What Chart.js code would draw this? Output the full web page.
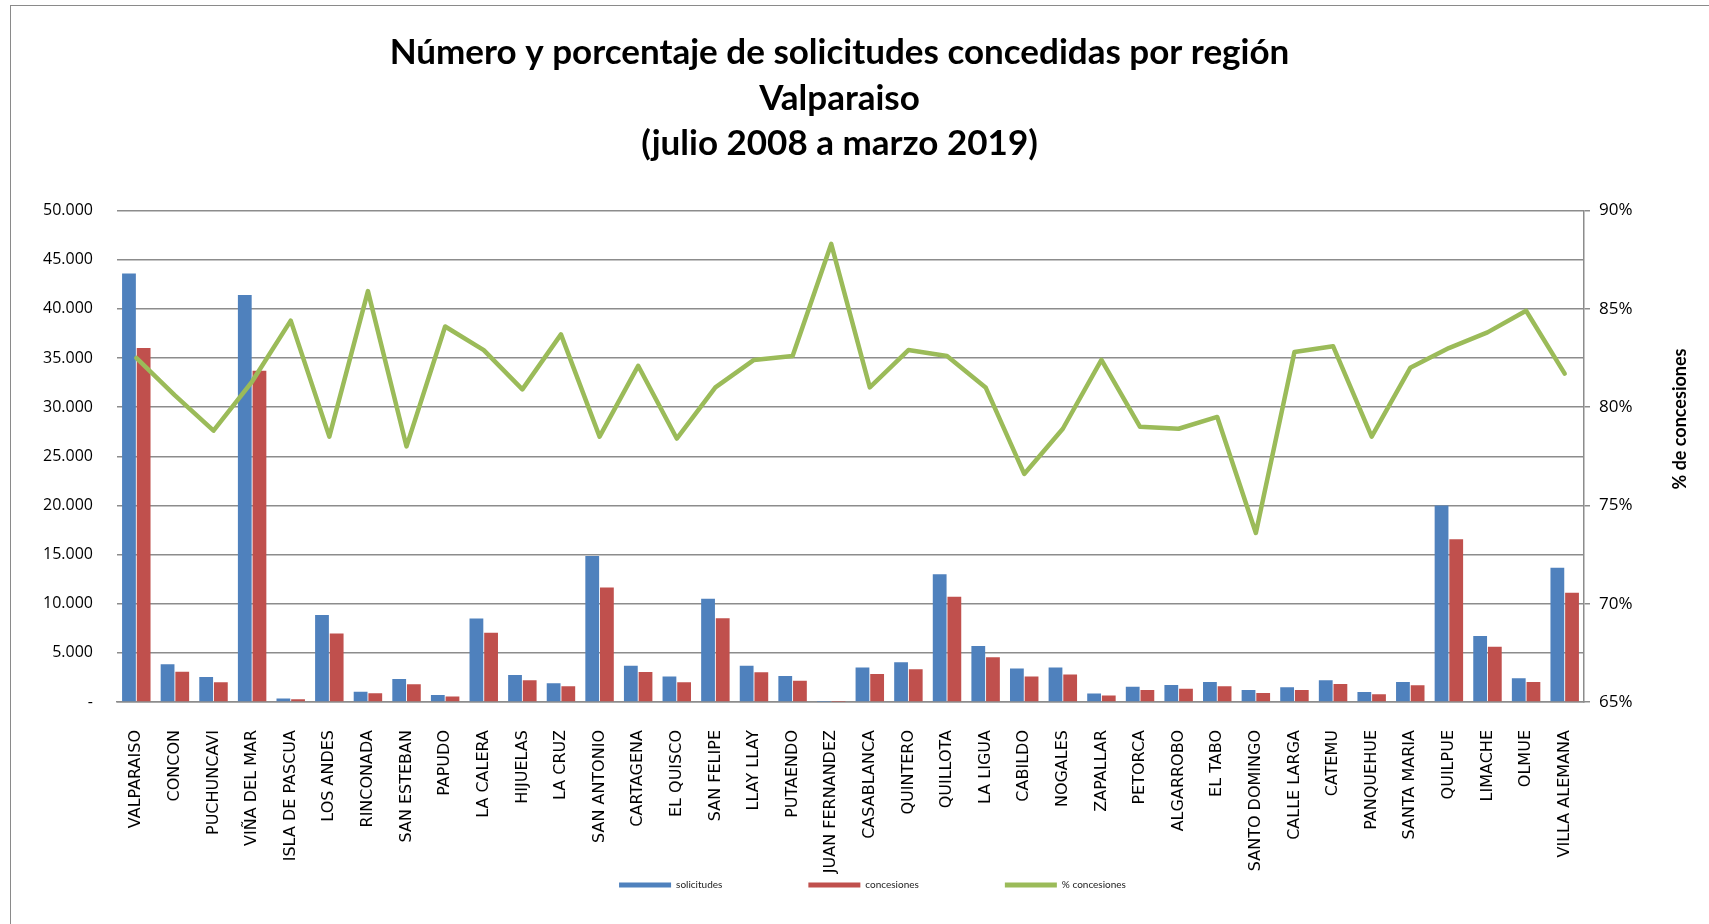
<!DOCTYPE html>
<html>
<head>
<meta charset="utf-8">
<script src="https://cdn.jsdelivr.net/npm/chart.js@4.4.1/dist/chart.umd.min.js"></script>
<style>
  html, body { margin: 0; padding: 0; background: #fff; overflow: hidden; }
  #frame { position: absolute; left: 10px; top: 5px; width: 1800px; height: 1000px; border: 1px solid #8a8a8a; }
  #c { position: absolute; left: 0; top: 0; }
</style>
</head>
<body>
<div id="frame"></div>
<canvas id="c" width="1709" height="924"></canvas>
<script>
const titleLines = ['Número y porcentaje de solicitudes concedidas por región', 'Valparaiso', '(julio 2008 a marzo 2019)'];
const rightAxisTitle = '% de concesiones';

const categories = ['VALPARAISO','CONCON','PUCHUNCAVI','VIÑA DEL MAR','ISLA DE PASCUA','LOS ANDES','RINCONADA','SAN ESTEBAN','PAPUDO','LA CALERA','HIJUELAS','LA CRUZ','SAN ANTONIO','CARTAGENA','EL QUISCO','SAN FELIPE','LLAY LLAY','PUTAENDO','JUAN FERNANDEZ','CASABLANCA','QUINTERO','QUILLOTA','LA LIGUA','CABILDO','NOGALES','ZAPALLAR','PETORCA','ALGARROBO','EL TABO','SANTO DOMINGO','CALLE LARGA','CATEMU','PANQUEHUE','SANTA MARIA','QUILPUE','LIMACHE','OLMUE','VILLA ALEMANA'];

const solicitudes = [43600, 3850, 2550, 41400, 350, 8850, 1050, 2350, 700, 8500, 2750, 1900, 14850, 3700, 2600, 10500, 3700, 2650, 17, 3500, 4050, 13000, 5700, 3400, 3500, 870, 1550, 1730, 2040, 1230, 1500, 2220, 1020, 2040, 20000, 6720, 2410, 13650];
const concesiones = [36000, 3080, 2000, 33700, 280, 6980, 900, 1800, 560, 7040, 2200, 1600, 11650, 3050, 2000, 8520, 3030, 2150, 15, 2860, 3330, 10700, 4560, 2600, 2790, 660, 1210, 1360, 1600, 920, 1230, 1840, 790, 1700, 16550, 5630, 2040, 11120];
const pctConcesiones = [82.5, 80.6, 78.8, 81.3, 84.4, 78.5, 85.9, 78.0, 84.1, 82.9, 80.9, 83.7, 78.5, 82.1, 78.4, 81.0, 82.4, 82.6, 88.3, 81.0, 82.9, 82.6, 81.0, 76.6, 78.9, 82.4, 79.0, 78.9, 79.5, 73.6, 82.8, 83.1, 78.5, 82.0, 83.0, 83.8, 84.9, 81.7];

const leftTicks = { min: 0, max: 50000, step: 5000 };
const rightTicks = { min: 65, max: 90, step: 5 };

function fmtThousands(v) {
  if (v === 0) return '-';
  return String(v).replace(/\B(?=(\d{3})+(?!\d))/g, '.');
}

const shiftPlugin = {
  id: 'shiftBoxes',
  afterLayout(chart) {
    if (chart.titleBlock) { chart.titleBlock.left -= 15; chart.titleBlock.right -= 15; }
    if (chart.legend) {
      chart.legend.left += 18; chart.legend.right += 18;
      chart.legend.top = 794; chart.legend.bottom = 924; chart.legend.height = 130;
    }
  },
  afterDraw(chart) {
    const ctx = chart.ctx;
    ctx.save();
    ctx.translate(1680, 419);
    ctx.rotate(-Math.PI / 2);
    ctx.font = 'bold 18px Lato';
    ctx.fillStyle = '#000';
    ctx.textAlign = 'center';
    ctx.textBaseline = 'middle';
    ctx.fillText(rightAxisTitle, 0, 0);
    ctx.restore();
  }
};

new Chart(document.getElementById('c'), {
  data: {
    labels: categories,
    datasets: [
      { type: 'bar', label: 'solicitudes', data: solicitudes, backgroundColor: '#4F81BD', borderWidth: 0, yAxisID: 'y', order: 1,
        categoryPercentage: 0.76, barPercentage: 0.94 },
      { type: 'bar', label: 'concesiones', data: concesiones, backgroundColor: '#C0504D', borderWidth: 0, yAxisID: 'y', order: 1,
        categoryPercentage: 0.76, barPercentage: 0.94 },
      { type: 'line', label: '% concesiones', data: pctConcesiones, borderColor: '#9BBB59', backgroundColor: '#9BBB59',
        borderWidth: 4.5, pointRadius: 0, tension: 0, fill: false, yAxisID: 'y1', order: 0,
        borderJoinStyle: 'round', borderCapStyle: 'round' }
    ]
  },
  options: {
    responsive: false,
    animation: false,
    devicePixelRatio: 1,
    layout: { padding: { left: 0, right: 0, top: 0, bottom: 0 } },
    plugins: {
      tooltip: { enabled: false },
      title: {
        display: true,
        text: titleLines,
        color: '#000',
        font: { family: 'Lato', size: 35, weight: 'bold', lineHeight: 1.3 },
        padding: { top: 30, bottom: 44 }
      },
      legend: {
        display: true,
        position: 'bottom',
        maxHeight: 44,
        labels: {
          color: '#222',
          font: { family: 'Lato', size: 10 },
          boxWidth: 52,
          boxHeight: 5,
          padding: 86,
          sort: (a, b) => a.datasetIndex - b.datasetIndex,
          generateLabels(chart) {
            const items = Chart.defaults.plugins.legend.labels.generateLabels(chart);
            items.forEach(it => {
              const ds = chart.data.datasets[it.datasetIndex];
              it.fillStyle = ds.type === 'line' ? ds.borderColor : ds.backgroundColor;
              it.strokeStyle = it.fillStyle;
              it.lineWidth = 0;
            });
            return items;
          }
        }
      }
    },
    scales: {
      x: {
        grid: { display: false },
        border: { display: true, color: '#8c8c8c', width: 1.5 },
        ticks: { color: '#000', font: { family: 'DejaVu Sans', size: 16 }, minRotation: 90, maxRotation: 90, padding: 20, autoSkip: false },
        afterFit(scale) { scale.height = 178; }
      },
      y: {
        position: 'left',
        min: leftTicks.min, max: leftTicks.max,
        grid: { color: '#8c8c8c', lineWidth: 1.5, drawTicks: false },
        border: { display: false },
        ticks: { stepSize: leftTicks.step, color: '#000', font: { family: 'Open Sans', size: 16 }, padding: 24,
          callback: v => fmtThousands(v) },
        afterFit(scale) { scale.width = 117; }
      },
      y1: {
        position: 'right',
        min: rightTicks.min, max: rightTicks.max,
        grid: { display: true, drawOnChartArea: false, drawTicks: true, tickLength: 6, color: '#8c8c8c', lineWidth: 1.5 },
        border: { display: true, color: '#8c8c8c', width: 1.5 },
        ticks: { stepSize: rightTicks.step, color: '#000', font: { family: 'Open Sans', size: 17 }, padding: 9,
          callback: v => v + '%' },
        afterFit(scale) { scale.width = 125; }
      }
    }
  },
  plugins: [shiftPlugin]
});
</script>
</body>
</html>
